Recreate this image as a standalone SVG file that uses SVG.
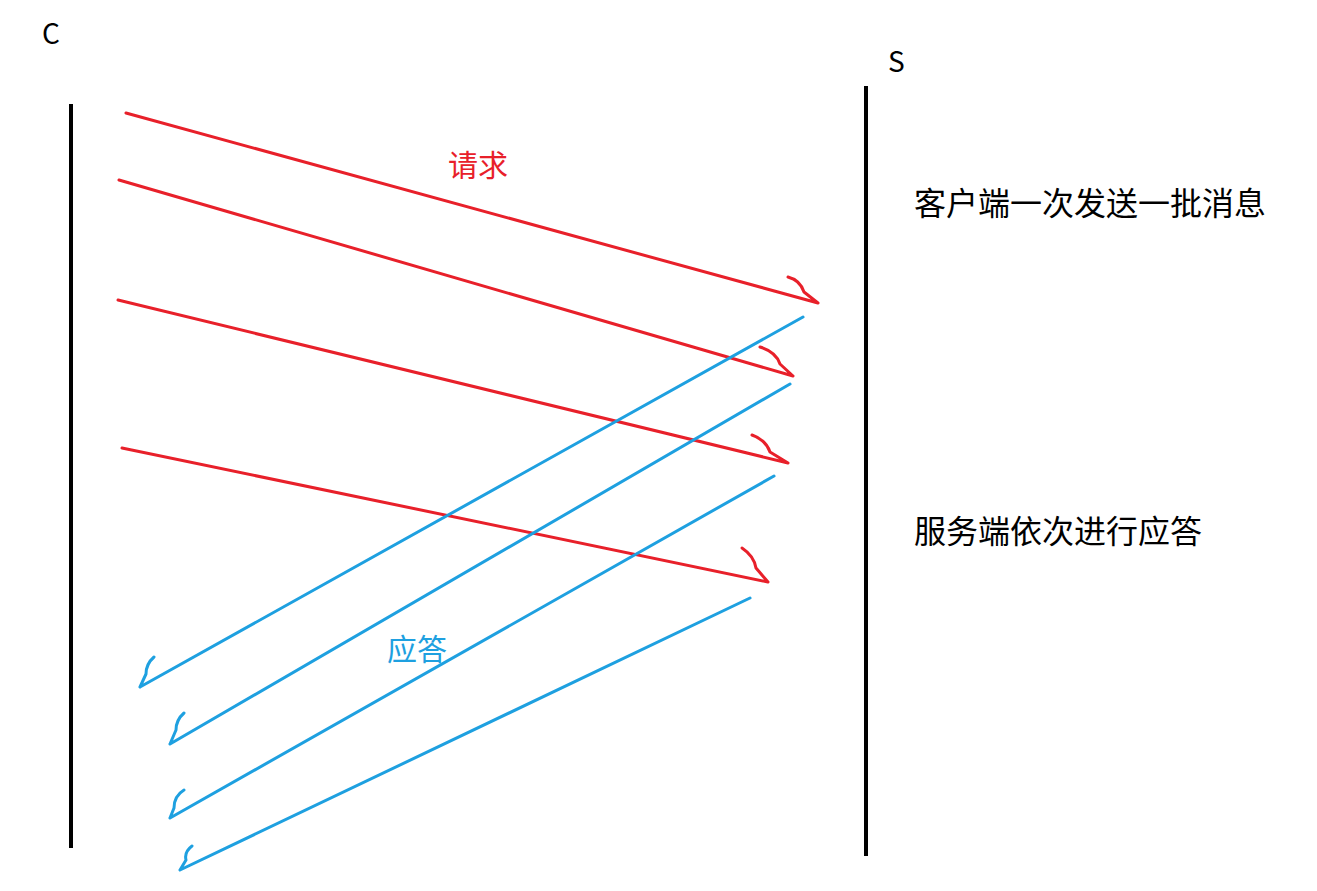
<svg xmlns="http://www.w3.org/2000/svg" width="1317" height="891" viewBox="0 0 1317 891">
<style>
.ax{stroke:#000;stroke-width:4;fill:none}
.r{stroke:#e8202a;stroke-width:3;fill:none;stroke-linecap:round;stroke-linejoin:round}
.b{stroke:#1ea0e0;stroke-width:3;fill:none;stroke-linecap:round;stroke-linejoin:round}
text{font-family:"Noto Sans CJK SC","Liberation Sans",sans-serif}
</style>
<rect width="1317" height="891" fill="#fff"/>
<g id="C"><line class="ax" x1="71" y1="104" x2="71" y2="848"/><text x="42" y="44" font-size="28">C</text></g>
<g id="S"><line class="ax" x1="866" y1="86" x2="866" y2="856"/><text x="888" y="72" font-size="28">S</text></g>
<g id="connectors">
<path class="r" d="M126 113 L818 303 M788 277 Q800 280 804 292 L818 303"/>
<path class="r" d="M119 180 L793 376 M760 347 Q776 352 780 364 L793 376"/>
<path class="r" d="M118 300 L788 463 M752 435 Q766 440 770 452 L788 463"/>
<path class="r" d="M122 448 L768 582 M742 548 Q754 556 756 568 L768 582"/>
<path class="b" d="M803 317 L140 687 M154 657 Q146 664 146 674 L140 687"/>
<path class="b" d="M790 384 L170 744 M184 713 Q176 720 176 730 L170 744"/>
<path class="b" d="M774 476 L170 818 M184 790 Q174 796 174 808 L170 818"/>
<path class="b" d="M750 598 L180 870 M192 846 Q184 852 186 860 L180 870"/>
</g>
<g id="labels">
<text x="448" y="176" font-size="30" fill="#e8202a">请求</text>
<text x="387" y="660" font-size="30" fill="#1ea0e0">应答</text>
<text x="914" y="215" font-size="32" fill="#000">客户端一次发送一批消息</text>
<text x="914" y="543" font-size="32" fill="#000">服务端依次进行应答</text>
</g>
</svg>
